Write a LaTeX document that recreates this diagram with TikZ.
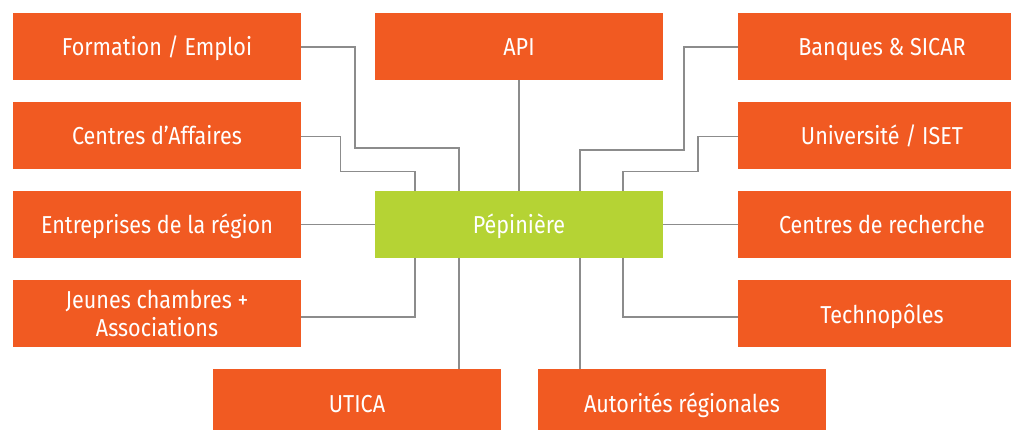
\documentclass[tikz,border=0pt]{standalone}
\usepackage{fontspec}
\setmainfont[FakeStretch=0.88]{Fira Sans}
\definecolor{boxorange}{HTML}{F15A22}
\definecolor{boxgreen}{HTML}{B5D334}
\definecolor{linegray}{HTML}{8C8C8C}
\begin{document}
\begin{tikzpicture}[x=1pt,y=-1pt,
  boxbase/.style={fill=boxorange, text=white, minimum width=288pt, minimum height=67pt, inner sep=0pt, align=center,
    font=\fontsize{24.5}{28}\selectfont},
  box/.style={boxbase, text height=19pt, text depth=0pt},
  hub/.style={box, fill=boxgreen},
  link/.style={draw=linegray, line width=1.3pt}]
\useasboundingbox (0,0) rectangle (1011,430);
\begin{scope}
\clip (0,0) rectangle (1011,430);
% left column
\node[box] (form) at (157,46.5) {Formation / Emploi};
\node[box] (caff) at (157,135.5) {Centres d’Affaires};
\node[box] (entr) at (157,224.5) {Entreprises de la région};
\node[boxbase] (jeun) at (157,313.5) {Jeunes chambres +\\Associations};
% middle
\node[box] (api) at (519,46.5) {API};
\node[hub] (pep) at (519,224.5) {Pépinière};
% right column
\node[box] (banq) at (882,46.5) {Banques \& SICAR};
\node[box] (univ) at (882,135.5) {Université / ISET};
\node[box] (rech) at (882,224.5) {Centres de recherche};
\node[box] (tech) at (882,313.5) {Technopôles};
% bottom
\node[box] (utica) at (357,402.5) {UTICA};
\node[box] (auto) at (682,402.5) {Autorités régionales};
\end{scope}
% connectors
\draw[link] ([yshift=-0.5]form.east) -| (355,148) -| ([xshift=-60]pep.north);
\draw[link] ([yshift=-1]caff.east) -| (340.7,171.7) -| ([xshift=-104]pep.north);
\draw[link] (api.south) -- (pep.north);
\draw[link] ([yshift=-0.5]banq.west) -| (684,150) -| ([xshift=61]pep.north);
\draw[link] ([yshift=-1]univ.west) -| (698,171.7) -| ([xshift=104]pep.north);
\draw[link] (entr.east) -- (pep.west);
\draw[link] (pep.east) -- (rech.west);
\draw[link] ([xshift=-104]pep.south) |- ([yshift=-3.5]jeun.east);
\draw[link] ([xshift=104]pep.south) |- ([yshift=-3.5]tech.west);
\draw[link] ([xshift=-60]pep.south) -- ([xshift=-60]pep.south |- utica.north);
\draw[link] ([xshift=61]pep.south) -- ([xshift=61]pep.south |- auto.north);
\end{tikzpicture}
\end{document}
